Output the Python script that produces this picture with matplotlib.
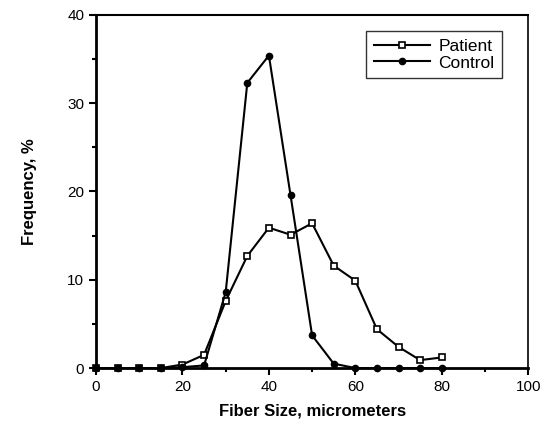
import matplotlib
matplotlib.use("Agg")
import matplotlib.pyplot as plt
from matplotlib.ticker import MultipleLocator

plt.rcParams['font.family'] = ['Liberation Sans', 'DejaVu Sans']

# fiber size bins (micrometers)
size_patient = [0, 5, 10, 15, 20, 25, 30, 35, 40, 45, 50, 55, 60, 65, 70, 75, 80]
freq_patient = [0, 0, 0, 0, 0.4, 1.5, 7.6, 12.7, 15.9, 15.1, 16.4, 11.6, 9.9, 4.4, 2.4, 0.9, 1.2]

size_control = [0, 5, 10, 15, 20, 25, 30, 35, 40, 45, 50, 55, 60, 65, 70, 75, 80]
freq_control = [0, 0, 0, 0, 0.1, 0.3, 8.6, 32.3, 35.4, 19.6, 3.7, 0.5, 0, 0, 0, 0, 0]


def main():
    fig = plt.figure(figsize=(5.49, 4.26), dpi=100)
    ax = fig.add_axes([0.175, 0.136, 0.787, 0.829])

    ax.plot(size_patient, freq_patient, color="black", lw=1.5, marker="s",
            markersize=4.5, markerfacecolor="white", markeredgecolor="black",
            markeredgewidth=1.2, label="Patient", clip_on=False, zorder=3)
    ax.plot(size_control, freq_control, color="black", lw=1.5, marker="o",
            markersize=4.5, label="Control", clip_on=False, zorder=4)

    ax.set_xlim(0, 100)
    ax.set_ylim(0, 40)
    ax.xaxis.set_major_locator(MultipleLocator(20))
    ax.xaxis.set_minor_locator(MultipleLocator(10))
    ax.yaxis.set_major_locator(MultipleLocator(10))
    ax.yaxis.set_minor_locator(MultipleLocator(5))
    ax.tick_params(which="both", direction="out", width=1.5, labelsize=11,
                   right=False, top=False)
    ax.tick_params(which="major", length=5)
    ax.tick_params(which="minor", length=3)
    ax.spines["left"].set_linewidth(2)
    ax.spines["bottom"].set_linewidth(2)
    ax.spines["top"].set_linewidth(1.5)
    ax.spines["right"].set_linewidth(1.2)

    ax.set_xlabel("Fiber Size, micrometers", fontsize=12, fontweight="bold", labelpad=7)
    ax.set_ylabel("Frequency, %", fontsize=12, fontweight="bold", labelpad=22)

    leg = ax.legend(loc="upper right", bbox_to_anchor=(0.96, 0.98), fontsize=12.5,
                    frameon=True, fancybox=False, handlelength=3.2,
                    borderpad=0.45, labelspacing=0.1, handletextpad=0.5)
    leg.get_frame().set_edgecolor("black")
    leg.get_frame().set_linewidth(1.0)

    fig.savefig("out.png", dpi=100)


if __name__ == "__main__":
    main()
